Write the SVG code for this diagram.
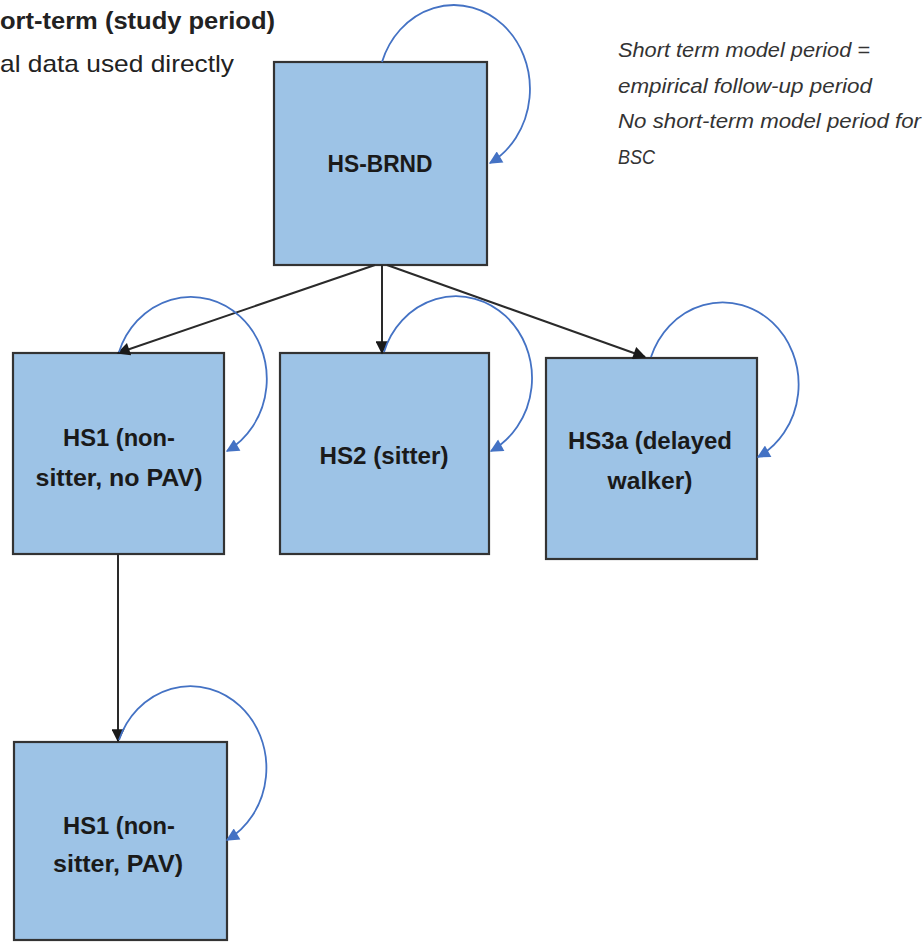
<svg xmlns="http://www.w3.org/2000/svg" width="923" height="944" viewBox="0 0 923 944">
<defs>
<marker id="ab" viewBox="0 0 10 10" refX="9" refY="5" markerWidth="14" markerHeight="13" markerUnits="userSpaceOnUse" orient="auto"><path d="M0,0 L10,5 L0,10 Z" fill="#1a1a1a"/></marker>
<marker id="al" viewBox="0 0 10 10" refX="9" refY="5" markerWidth="14" markerHeight="13" markerUnits="userSpaceOnUse" orient="auto"><path d="M0,0 L10,5 L0,10 Z" fill="#4472c4"/></marker>
<style>
.box{fill:#9dc3e6;stroke:#333;stroke-width:2.2}
.lbl{font-family:"Liberation Sans",Arial,sans-serif;font-weight:bold;font-size:24px;fill:#1a1a1a;text-anchor:middle}
.edge{fill:none;stroke:#2a2a2a;stroke-width:2;marker-end:url(#ab)}
.loop{fill:none;stroke:#4472c4;stroke-width:1.8;marker-end:url(#al)}
.note{font-family:"Liberation Sans",Arial,sans-serif;font-style:italic;font-size:21px;fill:#333}
.head{font-family:"Liberation Sans",Arial,sans-serif;font-size:24px;fill:#222}
</style>
</defs>
<rect width="923" height="944" fill="#fff"/>
<text class="head" x="0" y="29" font-weight="bold" textLength="275" lengthAdjust="spacingAndGlyphs">ort-term (study period)</text>
<text class="head" x="0" y="72" textLength="234" lengthAdjust="spacingAndGlyphs">al data used directly</text>
<g id="note">
<text class="note" x="618" y="57" textLength="252" lengthAdjust="spacingAndGlyphs">Short term model period =</text>
<text class="note" x="618" y="93" textLength="254" lengthAdjust="spacingAndGlyphs">empirical follow-up period</text>
<text class="note" x="618" y="128" textLength="303" lengthAdjust="spacingAndGlyphs">No short-term model period for</text>
<text class="note" x="618" y="164" textLength="37" lengthAdjust="spacingAndGlyphs">BSC</text>
</g>
<g id="hsbrnd">
<rect class="box" x="274" y="62" width="213" height="203"/>
<text class="lbl" x="380" y="172" textLength="105" lengthAdjust="spacingAndGlyphs">HS-BRND</text>
</g>
<g id="hs1">
<rect class="box" x="13" y="353" width="211" height="201"/>
<text class="lbl" x="119" y="446" textLength="112" lengthAdjust="spacingAndGlyphs">HS1 (non-</text>
<text class="lbl" x="119" y="486" textLength="167" lengthAdjust="spacingAndGlyphs">sitter, no PAV)</text>
</g>
<g id="hs2">
<rect class="box" x="280" y="353" width="209" height="201"/>
<text class="lbl" x="384" y="464" textLength="129" lengthAdjust="spacingAndGlyphs">HS2 (sitter)</text>
</g>
<g id="hs3a">
<rect class="box" x="546" y="358" width="211" height="201"/>
<text class="lbl" x="650" y="449" textLength="164" lengthAdjust="spacingAndGlyphs">HS3a (delayed</text>
<text class="lbl" x="650" y="489" textLength="85" lengthAdjust="spacingAndGlyphs">walker)</text>
</g>
<g id="hs1pav">
<rect class="box" x="14" y="742" width="213" height="198"/>
<text class="lbl" x="119" y="834" textLength="112" lengthAdjust="spacingAndGlyphs">HS1 (non-</text>
<text class="lbl" x="118" y="872" textLength="130" lengthAdjust="spacingAndGlyphs">sitter, PAV)</text>
</g>
<g id="connectors">
<path class="edge" d="M375,265 L118,353"/>
<path class="edge" d="M382,265 L382,353"/>
<path class="edge" d="M387,265 L645,357"/>
<path class="edge" d="M118,554 L118,741"/>
<path class="loop" d="M382,62 a76,84 0 1 1 108,101"/>
<path class="loop" d="M119,352 a76,82 0 1 1 108,99"/>
<path class="loop" d="M384,352 a76,82 0 1 1 107,99"/>
<path class="loop" d="M651,357 a76,82 0 1 1 107,100"/>
<path class="loop" d="M119,740 a76,82 0 1 1 108,100"/>
</g>
</svg>
